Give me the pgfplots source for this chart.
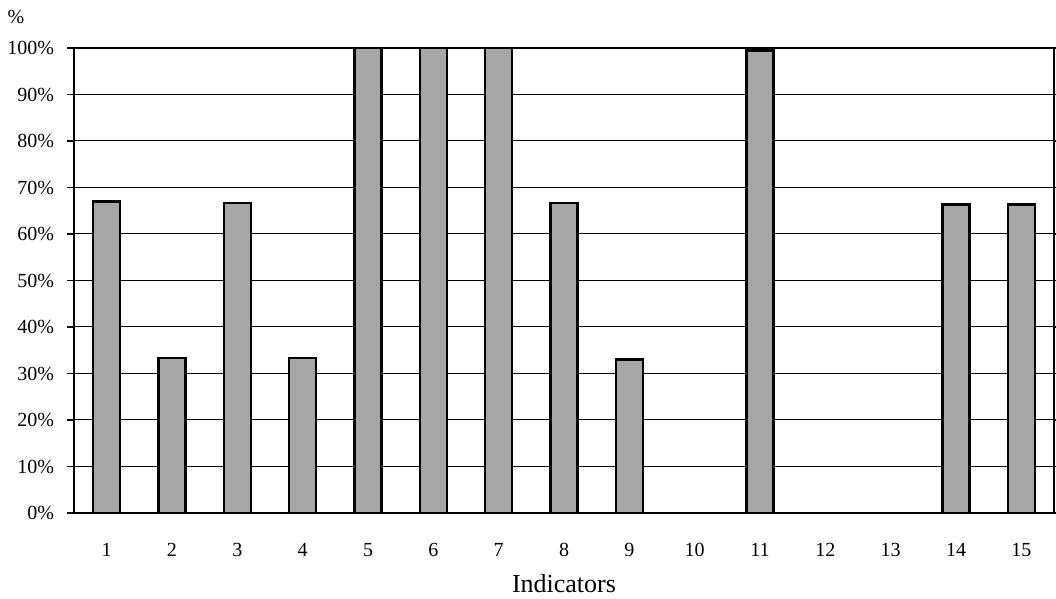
\documentclass[border=0pt]{standalone}
\usepackage{pgfplots}
\pgfplotsset{compat=1.18}
\usepackage{fontspec}
\setmainfont{Liberation Serif}
\begin{document}
\begin{tikzpicture}
\path[use as bounding box] (-37pt,-43pt) rectangle (491pt,256.5pt);
\begin{axis}[
  at={(0,0)}, anchor=south west,
  scale only axis,
  width=490pt, height=232.5pt,
  xmin=0.5, xmax=15.5,
  ymin=0, ymax=100,
  xtick={1,...,15},
  ytick={0,10,...,100},
  yticklabel={\pgfmathprintnumber{\tick}\%},
  /pgf/number format/assume math mode=true,
  tick label style={font=\fontsize{10}{12}\selectfont},
  major x tick style={draw=none},
  major y tick style={black, line width=0.6pt},
  tick align=outside,
  major tick length=3.5pt,
  ymajorgrids,
  grid style={black, line width=0.5pt},
  axis line style={black, line width=0.9pt},
  xlabel={Indicators},
  xlabel style={font=\fontsize{13}{15}\selectfont, at={(axis description cs:0.5,0)}, anchor=center, yshift=-35.5pt},
  xticklabel style={yshift=-8pt},
  yticklabel style={xshift=-3pt},
  ybar, bar width=0.41,
  clip=false,
  axis on top=false,
]
\addplot[fill=black!35, draw=black, line width=1.2pt]
  coordinates {(1,67) (2,33.3) (3,66.7) (4,33.3) (5,100) (6,100) (7,100) (8,66.7) (9,33) (11,99.5) (14,66.3) (15,66.3)};
\end{axis}
\node[font=\fontsize{10}{12}\selectfont] at (-29pt,248pt) {\%};
\end{tikzpicture}
\end{document}
